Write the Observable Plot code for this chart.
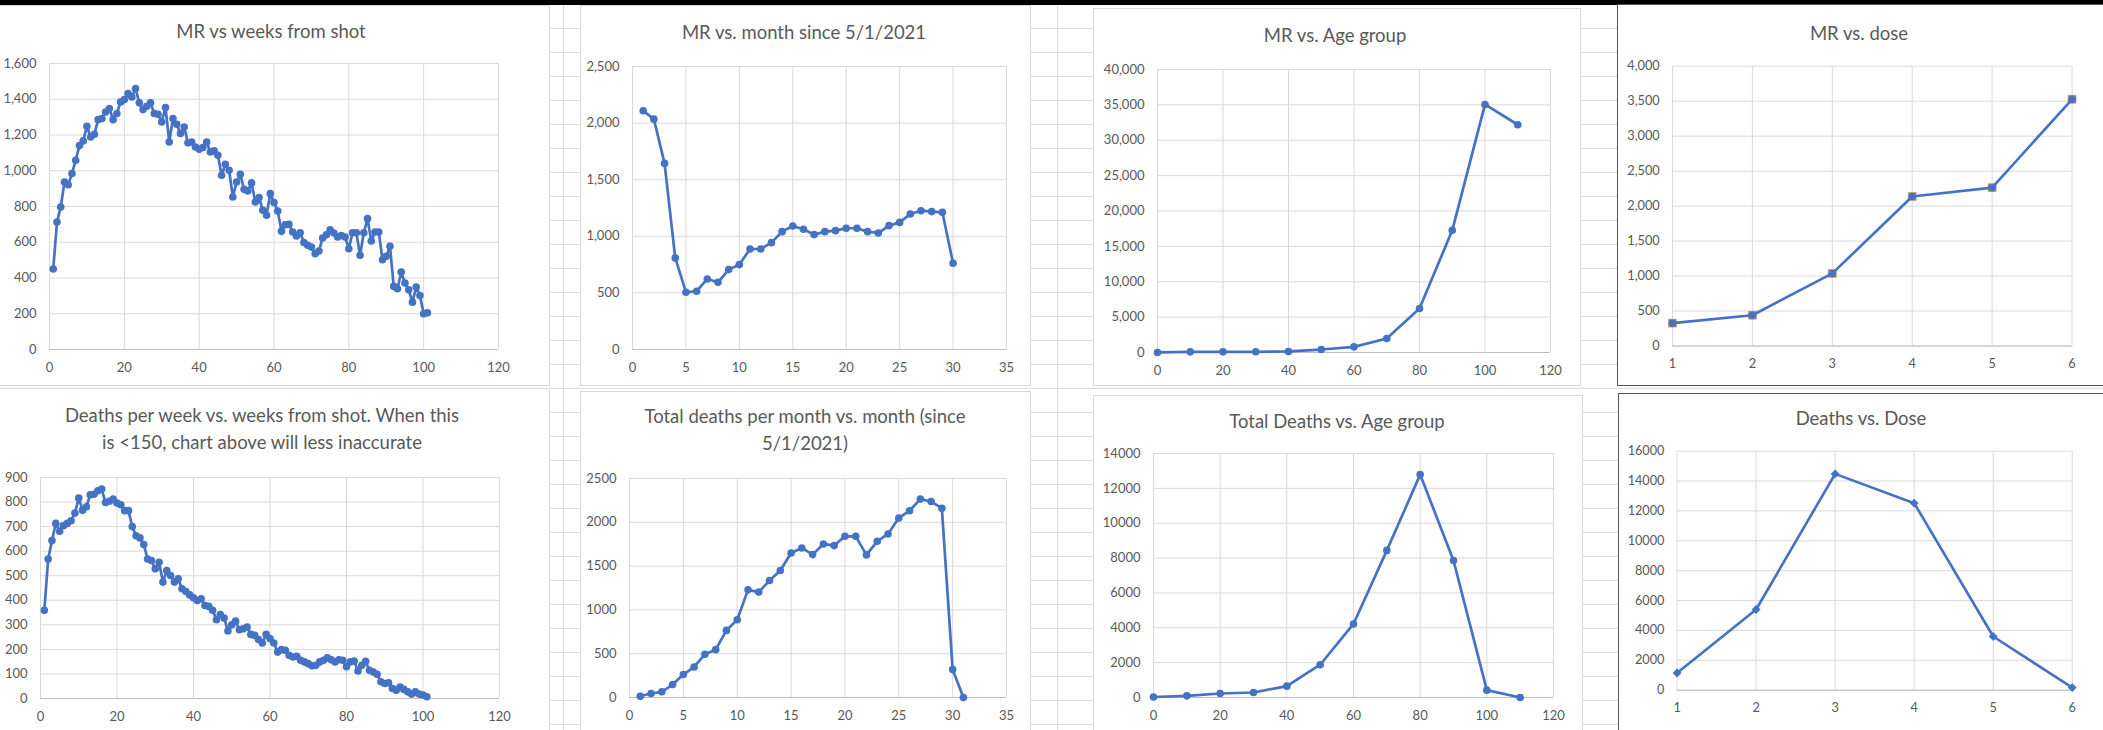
<!DOCTYPE html>
<html><head><meta charset="utf-8">
<script src="https://cdn.jsdelivr.net/npm/d3@7"></script>
<script src="https://cdn.jsdelivr.net/npm/@observablehq/plot@0.6"></script>
<style>
body{margin:0;background:#fff;}
#page{position:relative;width:2103px;height:730px;overflow:hidden;background-color:#fff;
 background-image:repeating-linear-gradient(to bottom,#dcdcdc 0px,#dcdcdc 1px,transparent 1px,transparent 24px);
 background-position:0 4px;}
.box{position:absolute;background:#fff;box-sizing:border-box;}
.title{position:absolute;width:640px;text-align:center;font-family:Lato,sans-serif;font-size:18.5px;color:#595959;line-height:27px;white-space:nowrap;}
.chart{position:absolute;}
.chart svg{overflow:visible;}
</style></head>
<body><div id="page"></div>
<script>
// ---------- data ----------
const weeks = d3.range(1, 102);
const mrWeeks = [450,713,797,937,922,984,1059,1141,1167,1249,
 1189,1204,1286,1292,1329,1348,1286,1320,1385,1398,
 1432,1413,1460,1380,1342,1361,1380,1320,1316,1273,
 1354,1161,1292,1260,1208,1245,1156,1161,1133,1120,
 1130,1161,1105,1111,1087,975,1036,1003,853,937,
 980,896,887,932,825,850,779,751,872,822,
 775,661,698,700,657,635,653,599,583,573,
 536,551,624,642,670,652,629,638,629,564,
 653,653,527,653,732,607,657,657,502,521,
 577,353,340,433,372,334,265,349,302,200,205];
const deathsWeek = [359,568,643,713,681,704,713,724,755,816,
 767,781,830,832,846,853,798,803,812,796,
 789,765,765,700,663,654,627,568,562,528,
 555,474,521,501,474,487,447,436,422,410,
 399,406,379,375,359,321,342,328,275,300,
 315,280,284,291,261,257,240,226,261,244,
 226,189,199,196,176,169,172,156,149,142,
 133,135,149,156,166,158,149,158,156,129,
 149,153,112,135,152,115,108,99,68,61,
 64,41,34,47,37,27,18,27,18,14,7];
const monthsMR = d3.range(1, 31);
const mrMonth = [2109,2035,1644,809,506,515,623,594,706,750,888,888,944,1041,1091,1062,1015,1041,1050,1071,1071,1041,1029,1094,1123,1197,1226,1218,1212,762];
const monthsDeaths = d3.range(1, 32);
const deathsMonth = [15,46,65,148,262,349,493,546,766,888,1229,1203,1335,1449,1650,1707,1631,1753,1734,1840,1840,1628,1783,1867,2049,2132,2265,2238,2159,319,0];
const ageGroups = [0,10,20,30,40,50,60,70,80,90,100,110];
const mrAge = [10,90,90,100,150,420,800,1980,6210,17270,35060,32190];
const deathsAge = [30,96,230,288,652,1880,4220,8440,12790,7860,422,0];
const doses = [1,2,3,4,5,6];
const mrDose = [327,440,1038,2138,2264,3527];
const mrDose2 = [327,440,1038,2138,2264,3527];
const deathsDose = [1154,5399,14477,12518,3592,174];

// ---------- tick labels ----------
const weekTicks = [0,20,40,60,80,100,120];
const monthTicks = [0,5,10,15,20,25,30,35];
const ageTicks = [0,20,40,60,80,100,120];
const doseTicks = [1,2,3,4,5,6];
const mrWeekYTicks = [0,200,400,600,800,1000,1200,1400,1600];
const mrMonthYTicks = [0,500,1000,1500,2000,2500];
const mrAgeYTicks = [0,5000,10000,15000,20000,25000,30000,35000,40000];
const mrDoseYTicks = [0,500,1000,1500,2000,2500,3000,3500,4000];
const deathsWeekYTicks = [0,100,200,300,400,500,600,700,800,900];
const deathsMonthYTicks = [0,500,1000,1500,2000,2500];
const deathsAgeYTicks = [0,2000,4000,6000,8000,10000,12000,14000];
const deathsDoseYTicks = [0,2000,4000,6000,8000,10000,12000,14000,16000];

// ---------- titles ----------
const titles = [
 ["MR vs weeks from shot"],
 ["MR vs. month since 5/1/2021"],
 ["MR vs. Age group"],
 ["MR vs. dose"],
 ["Deaths per week vs. weeks from shot. When this","is <150, chart above will less inaccurate"],
 ["Total deaths per month vs. month (since","5/1/2021)"],
 ["Total Deaths vs. Age group"],
 ["Deaths vs. Dose"]
];

// ---------- layout ----------
const BLUE = "#4472C4", ORANGE = "#ED7D31";
const page = document.getElementById("page");
function div(cls, css) { const d = document.createElement("div"); d.className = cls; Object.assign(d.style, css); page.appendChild(d); return d; }

// excel cell column lines in gaps
[563, 1057].forEach(x => div("", {position:"absolute", left:x+"px", top:"0px", width:"1px", height:"730px", background:"#dcdcdc"}));
div("", {position:"absolute", left:"0px", top:"0px", width:"2103px", height:"5px", background:"#000"});

const boxes = [
 [-1,5,551,381,"#d9d9d9"],[580,5,451,381,"#d9d9d9"],[1093,8,488,378,"#d9d9d9"],[1617,4,500,382,"#555"],
 [-1,388,551,350,"#d9d9d9"],[580,391,451,350,"#d9d9d9"],[1093,395,490,345,"#d9d9d9"],[1618,393,500,345,"#555"]
];
boxes.forEach(([l,t,w,h,c]) => div("box", {left:l+"px", top:t+"px", width:w+"px", height:h+"px", border:"1px solid "+c}));

const titlePos = [[271,32],[804,33],[1335,36],[1859,34],[262,416],[805,417],[1337,422],[1861,419]];
titles.forEach((lines, i) => {
  const [cx, cy] = titlePos[i];
  const t = div("title", {left:(cx-320)+"px", top:(cy-14)+"px"});
  lines.forEach(s => { const l = document.createElement("div"); l.textContent = s; t.appendChild(l); });
});

function rows(xs, ys) { return xs.map((x, i) => ({x, y: ys[i]})); }

function chart(cfg) {
  const [x0, x1, y0, y1] = cfg.frame;
  const left = cfg.svgLeft, top = y0 - 15;
  const width = x1 + 32 - left, height = y1 + 32 - top;
  const fmt = d3.format(cfg.fmt);
  const marks = [
    Plot.gridX(cfg.xTicks, {stroke:"#d9d9d9", strokeOpacity:1}),
    Plot.gridY(cfg.yTicks, {stroke:"#d9d9d9", strokeOpacity:1}),
    Plot.ruleY([cfg.yTicks[0]], {stroke:"#bfbfbf"}),
    Plot.axisX(cfg.xTicks, {tickSize:0, tickPadding:13, label:null, fill:"#595959"}),
    Plot.axisY(cfg.yTicks, {tickSize:0, tickPadding:13, label:null, tickFormat:fmt, fill:"#595959"})
  ];
  if (cfg.under) marks.push(Plot.dot(cfg.under, {x:"x", y:"y", symbol:"square", r:4.6, fill:ORANGE, stroke:"#9a8a80", strokeWidth:0.5}));
  marks.push(Plot.line(cfg.data, {x:"x", y:"y", stroke:BLUE, strokeWidth:2.7}));
  marks.push(Plot.dot(cfg.data, {x:"x", y:"y", symbol:cfg.symbol || "circle", r:cfg.r || 3.8, fill:BLUE}));
  const svg = Plot.plot({
    width, height,
    marginLeft: x0 - left, marginRight: left + width - x1, marginTop: y0 - top, marginBottom: top + height - y1,
    style: {fontFamily:"Lato, sans-serif", fontSize:"13px", color:"#595959", background:"transparent", overflow:"visible"},
    x: {domain: [cfg.xTicks[0], cfg.xTicks[cfg.xTicks.length-1]], label:null},
    y: {domain: [cfg.yTicks[0], cfg.yTicks[cfg.yTicks.length-1]], label:null},
    marks
  });
  const w = div("chart", {left:left+"px", top:top+"px"});
  w.appendChild(svg);
}

chart({svgLeft:0, frame:[49,498,63,349], xTicks:weekTicks, yTicks:mrWeekYTicks, fmt:",", data:rows(weeks, mrWeeks)});
chart({svgLeft:581, frame:[632,1006,66,349], xTicks:monthTicks, yTicks:mrMonthYTicks, fmt:",", data:rows(monthsMR, mrMonth)});
chart({svgLeft:1094, frame:[1157,1550,69,352], xTicks:ageTicks, yTicks:mrAgeYTicks, fmt:",", data:rows(ageGroups, mrAge)});
chart({svgLeft:1618, frame:[1673,2080,66,351], xTicks:doseTicks, yTicks:mrDoseYTicks, fmt:",", data:rows(doses, mrDose), under:rows(doses, mrDose2)});
chart({svgLeft:0, frame:[40,499,477,698], xTicks:weekTicks, yTicks:deathsWeekYTicks, fmt:"d", data:rows(weeks, deathsWeek)});
chart({svgLeft:581, frame:[629,1006,478,697], xTicks:monthTicks, yTicks:deathsMonthYTicks, fmt:"d", data:rows(monthsDeaths, deathsMonth)});
chart({svgLeft:1094, frame:[1153,1553,453,697], xTicks:ageTicks, yTicks:deathsAgeYTicks, fmt:"d", data:rows(ageGroups, deathsAge)});
chart({svgLeft:1619, frame:[1678,2083,451,696], xTicks:doseTicks, yTicks:deathsDoseYTicks, fmt:"d", data:rows(doses, deathsDose), symbol:"diamond2", r:4.1});
</script>
</body></html>
